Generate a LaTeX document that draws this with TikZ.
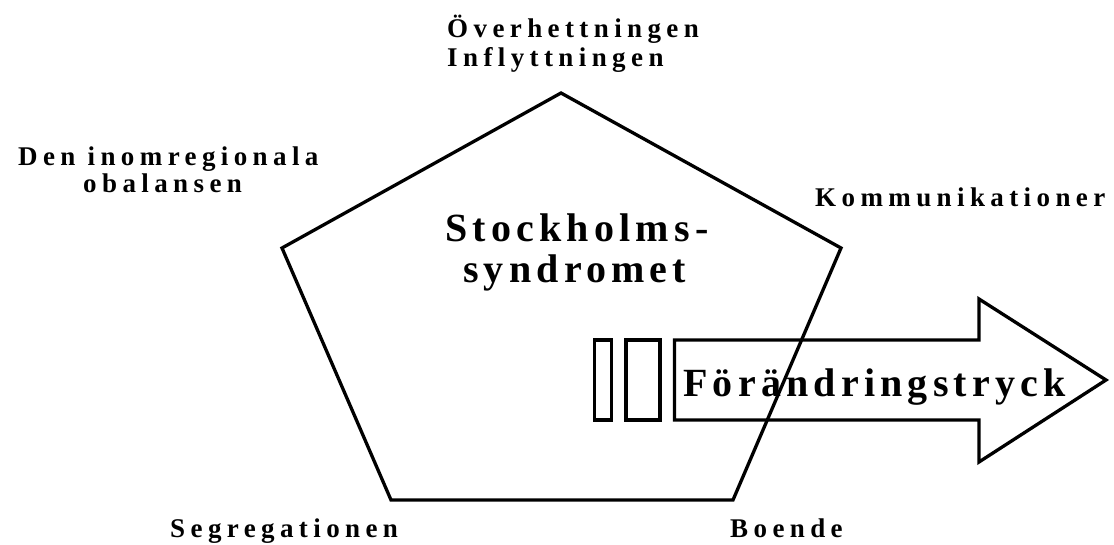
\documentclass[tikz,border=0pt]{standalone}
\usepackage{fontspec}
\setmainfont{Liberation Serif}
\newfontfamily\lblfont[LetterSpace=20]{Liberation Serif}
\newfontfamily\titlefont[LetterSpace=13]{Liberation Serif}
\usepackage{tikz}
\usetikzlibrary{calc}

\tikzset{
  lbl/.style={font=\lblfont\bfseries\fontsize{27}{31}\selectfont, inner sep=0pt, anchor=base west},
  title/.style={font=\titlefont\bfseries\fontsize{40}{46}\selectfont, inner sep=0pt, anchor=base west},
  thick line/.style={line width=3.3pt, line join=miter}
}

\begin{document}
\begin{tikzpicture}[x=1pt,y=-1pt]
\useasboundingbox (0,0) rectangle (1114,545);
% pentagon
\draw[thick line] (561,93) -- (841,248) -- (733,500) -- (391,500) -- (282,248) -- cycle;
% the bars and the arrow
\draw[thick line] (594.5,340) rectangle (611.5,420);
\draw[thick line] (626,340) rectangle (660,420);
\draw[thick line] (674.5,340) -- (979,340) -- (979,299) -- (1106,380)
  -- (979,462) -- (979,420) -- (674.5,420) -- cycle;
% labels
\node[lbl] (over) at (447,38) {Överhettningen};
\node[lbl] (infl) at (447,67) {Inflyttningen};
\node[lbl] (inom) at (18,166) {Den inomregionala};
\node[lbl] (obal) at (83,193) {obalansen};
\node[lbl] (komm) at (815,207) {Kommunikationer};
\node[lbl] (segr) at (170,537) {Segregationen};
\node[lbl] (boen) at (730,537) {Boende};
\node[title] (stock) at (445,242) {Stockholms-};
\node[title] (synd) at (463,283) {syndromet};
\node[title] (forand) at (683,396) {Förändringstryck};
\end{tikzpicture}
\end{document}
